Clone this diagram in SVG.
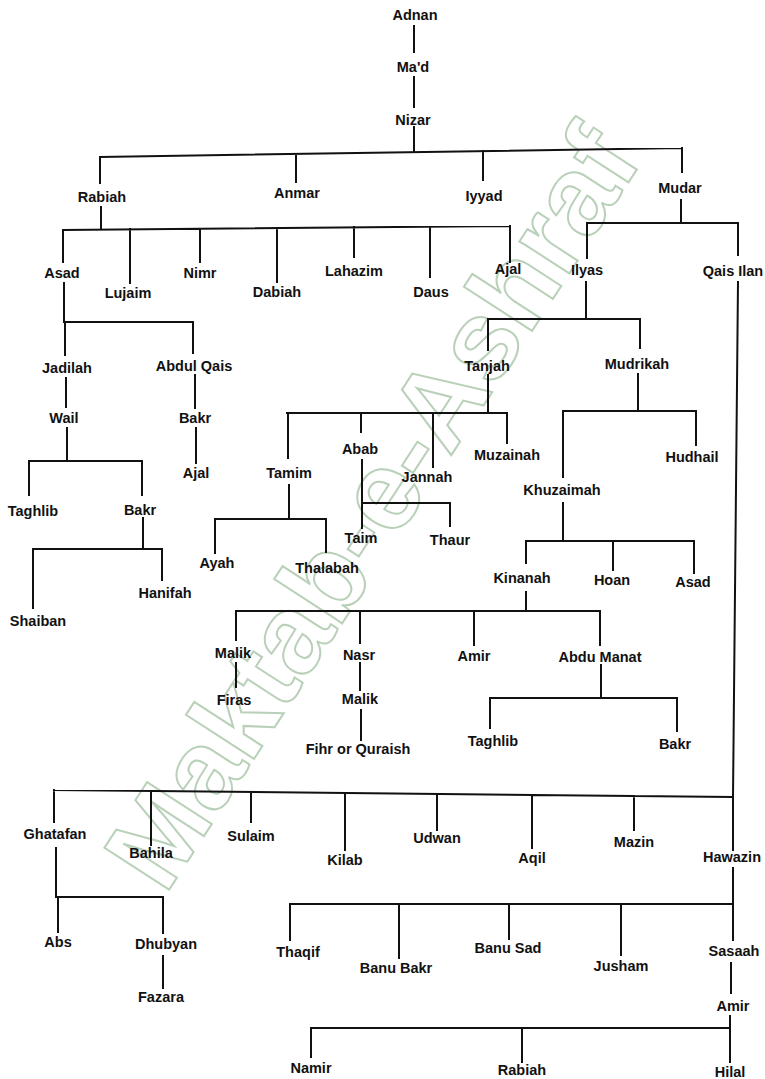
<svg xmlns="http://www.w3.org/2000/svg" width="765" height="1079" viewBox="0 0 765 1079">
<style>
.n text{font-family:"Liberation Sans",Arial,sans-serif;font-size:14.5px;font-weight:700;fill:#111;text-anchor:middle}
#connectors path{stroke:#111;stroke-width:2;fill:none;stroke-linecap:square}
.wm{font-family:"Liberation Sans",Arial,sans-serif;font-size:112px;font-weight:700;fill:none;stroke:#b9d0b9;stroke-width:2;text-anchor:middle}
</style>
<rect width="765" height="1079" fill="#fff"/>
<text class="wm" transform="translate(404,528) rotate(-57)">Maktab-e-Ashraf</text>
<g id="connectors">
<path d="M414 26V52M414 77V107M414 127V151"/>
<path d="M100 157L682 148M100 157V183M296 154V182M483 151V180M682 148V172"/>
<path d="M101 207V228M63 230L510 226M63 230V262M130 229V283M200 229V262M277 228V282M354 227V257M430 227V277M510 226V262"/>
<path d="M681 200V222M587 223H738M587 223V258M738 223V255"/>
<path d="M738 282L733 797L733 850"/>
<path d="M64 283V322M65 322H193M65 322V355M193 322V353"/>
<path d="M66 378V407M67 428V461M29 461H142M29 461V495M142 461V495"/>
<path d="M195 375V408M196 428V463"/>
<path d="M143 518V549M33 549H162M33 549V608M162 549V580"/>
<path d="M586 282V319M488 319H640M488 319V350M640 319V348"/>
<path d="M488 375V413M287 413H507M288 413V458M361 413V432M433 413V467M507 413V443"/>
<path d="M362 460V528M362 503H450V526"/>
<path d="M289 485V519M215 519H326M215 519V553M326 519V552"/>
<path d="M638 374V411M563 411H696M563 411V477M696 411V445"/>
<path d="M563 503V541M526 541H694M526 541V563M613 541V570M694 541V573"/>
<path d="M526 592V611M236 611H600M236 611V640M360 611V643M474 611V645M600 611V645"/>
<path d="M236 663V687M360 663V690M361 710V740"/>
<path d="M601 665V698M490 698H677M490 698V728M677 698V731"/>
<path d="M54 790L733 797M54 790V822M151 791V845M251 792V822M345 793V850M437 794V830M532 795V848M634 796V830"/>
<path d="M56 848V897M57 897H163M58 897V932M163 897V933M163 956V988"/>
<path d="M733 868V904M290 904H733M290 904V940M399 904V958M509 904V939M621 904V955M733 904V940"/>
<path d="M731 963V993M730 1016V1028M311 1028H730M311 1028V1057M522 1028V1062M730 1028V1062"/>
</g>
<g class="n" id="adnan"><text x="415" y="20">Adnan</text></g>
<g class="n" id="mad"><text x="413" y="72">Ma'd</text></g>
<g class="n" id="nizar"><text x="413" y="125">Nizar</text></g>
<g class="n" id="rabiah"><text x="102" y="202">Rabiah</text></g>
<g class="n" id="anmar"><text x="297" y="198">Anmar</text></g>
<g class="n" id="iyyad"><text x="484" y="201">Iyyad</text></g>
<g class="n" id="mudar"><text x="680" y="193">Mudar</text></g>
<g class="n" id="asad1"><text x="62" y="278">Asad</text></g>
<g class="n" id="lujaim"><text x="128" y="298">Lujaim</text></g>
<g class="n" id="nimr"><text x="200" y="278">Nimr</text></g>
<g class="n" id="dabiah"><text x="277" y="297">Dabiah</text></g>
<g class="n" id="lahazim"><text x="354" y="276">Lahazim</text></g>
<g class="n" id="daus"><text x="431" y="297">Daus</text></g>
<g class="n" id="ajal1"><text x="508" y="274">Ajal</text></g>
<g class="n" id="ilyas"><text x="587" y="275">Ilyas</text></g>
<g class="n" id="qaisilan"><text x="733" y="276">Qais Ilan</text></g>
<g class="n" id="jadilah"><text x="67" y="373">Jadilah</text></g>
<g class="n" id="abdulqais"><text x="194" y="371">Abdul Qais</text></g>
<g class="n" id="wail"><text x="64" y="423">Wail</text></g>
<g class="n" id="bakr1"><text x="195" y="423">Bakr</text></g>
<g class="n" id="ajal2"><text x="196" y="478">Ajal</text></g>
<g class="n" id="taghlib1"><text x="33" y="516">Taghlib</text></g>
<g class="n" id="bakr2"><text x="140" y="515">Bakr</text></g>
<g class="n" id="hanifah"><text x="165" y="598">Hanifah</text></g>
<g class="n" id="shaiban"><text x="38" y="626">Shaiban</text></g>
<g class="n" id="tanjah"><text x="487" y="371">Tanjah</text></g>
<g class="n" id="mudrikah"><text x="637" y="369">Mudrikah</text></g>
<g class="n" id="tamim"><text x="289" y="478">Tamim</text></g>
<g class="n" id="abab"><text x="360" y="454">Abab</text></g>
<g class="n" id="jannah"><text x="427" y="482">Jannah</text></g>
<g class="n" id="muzainah"><text x="507" y="460">Muzainah</text></g>
<g class="n" id="taim"><text x="361" y="543">Taim</text></g>
<g class="n" id="thaur"><text x="450" y="545">Thaur</text></g>
<g class="n" id="ayah"><text x="217" y="568">Ayah</text></g>
<g class="n" id="thalabah"><text x="327" y="573">Thalabah</text></g>
<g class="n" id="hudhail"><text x="692" y="462">Hudhail</text></g>
<g class="n" id="khuzaimah"><text x="562" y="495">Khuzaimah</text></g>
<g class="n" id="kinanah"><text x="522" y="583">Kinanah</text></g>
<g class="n" id="hoan"><text x="612" y="585">Hoan</text></g>
<g class="n" id="asad2"><text x="693" y="587">Asad</text></g>
<g class="n" id="malik1"><text x="233" y="658">Malik</text></g>
<g class="n" id="nasr"><text x="359" y="660">Nasr</text></g>
<g class="n" id="amir1"><text x="474" y="661">Amir</text></g>
<g class="n" id="abdumanat"><text x="600" y="662">Abdu Manat</text></g>
<g class="n" id="firas"><text x="234" y="705">Firas</text></g>
<g class="n" id="malik2"><text x="360" y="704">Malik</text></g>
<g class="n" id="fihr"><text x="358" y="754">Fihr or Quraish</text></g>
<g class="n" id="taghlib2"><text x="493" y="746">Taghlib</text></g>
<g class="n" id="bakr3"><text x="675" y="749">Bakr</text></g>
<g class="n" id="ghatafan"><text x="55" y="839">Ghatafan</text></g>
<g class="n" id="bahila"><text x="151" y="858">Bahila</text></g>
<g class="n" id="sulaim"><text x="251" y="841">Sulaim</text></g>
<g class="n" id="kilab"><text x="345" y="865">Kilab</text></g>
<g class="n" id="udwan"><text x="437" y="843">Udwan</text></g>
<g class="n" id="aqil"><text x="532" y="863">Aqil</text></g>
<g class="n" id="mazin"><text x="634" y="847">Mazin</text></g>
<g class="n" id="hawazin"><text x="732" y="862">Hawazin</text></g>
<g class="n" id="abs"><text x="58" y="947">Abs</text></g>
<g class="n" id="dhubyan"><text x="166" y="949">Dhubyan</text></g>
<g class="n" id="fazara"><text x="161" y="1002">Fazara</text></g>
<g class="n" id="thaqif"><text x="298" y="957">Thaqif</text></g>
<g class="n" id="banubakr"><text x="396" y="973">Banu Bakr</text></g>
<g class="n" id="banusad"><text x="508" y="953">Banu Sad</text></g>
<g class="n" id="jusham"><text x="621" y="971">Jusham</text></g>
<g class="n" id="sasaah"><text x="734" y="956">Sasaah</text></g>
<g class="n" id="amir2"><text x="733" y="1011">Amir</text></g>
<g class="n" id="namir"><text x="311" y="1073">Namir</text></g>
<g class="n" id="rabiah2"><text x="522" y="1075">Rabiah</text></g>
<g class="n" id="hilal"><text x="730" y="1077">Hilal</text></g>
</svg>
